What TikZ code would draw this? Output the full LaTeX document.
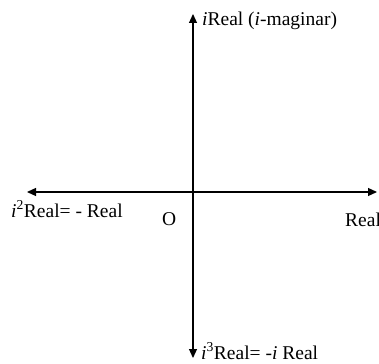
\documentclass[tikz,border=0pt]{standalone}
\usepackage{fontspec}
\setmainfont{Liberation Serif}
\usetikzlibrary{arrows.meta}
\begin{document}
\begin{tikzpicture}[x=1pt,y=-1pt,
  axis/.style={line width=1.2pt,-{Triangle[length=9pt,width=8pt]}},
  lbl/.style={anchor=base west,inner sep=0pt,font=\fontsize{19.5}{22}\selectfont}]
\useasboundingbox (0,0) rectangle (379,363);
\coordinate (o) at (193,192);
\coordinate (top) at (193,14);
\coordinate (bot) at (193,358);
\coordinate (left) at (27,192);
\coordinate (right) at (377,192);
\draw[axis] (o) -- (top);
\draw[axis] (o) -- (bot);
\draw[axis] (o) -- (left);
\draw[axis] (o) -- (right);
\node[lbl] (ti) at (202,26) {\textit{i}Real (\textit{i}-maginar)};
\node[lbl] (li) at (11,217) {\textit{i}\textsuperscript{2}Real= - Real};
\node[lbl] (oo) at (162,225) {O};
\node[lbl] (ri) at (345,226) {Real};
\node[lbl] (bi) at (201,359) {\textit{i}\textsuperscript{3}Real= -\textit{i} Real};
\end{tikzpicture}
\end{document}
